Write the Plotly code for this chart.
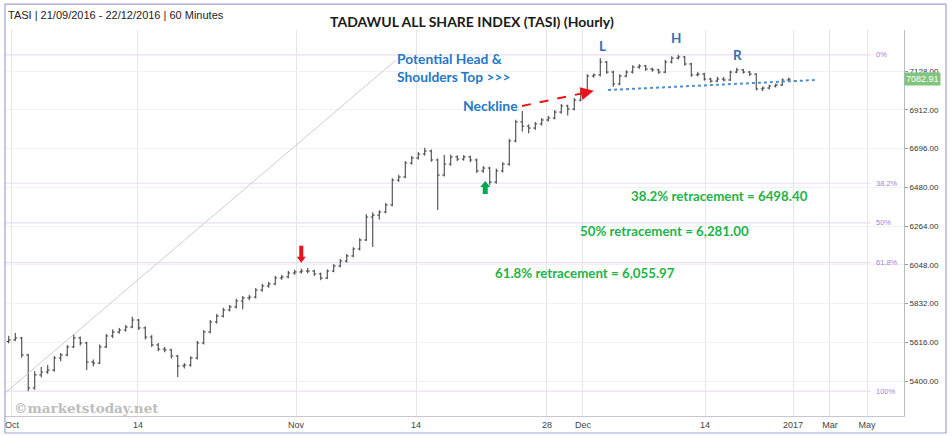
import plotly.graph_objects as go

# hourly TASI bars (two bars per trading day)
opens = [5620, 5629, 5640, 5545, 5361, 5434, 5450, 5461, 5528, 5545, 5590, 5640, 5612, 5506, 5500, 5590,
         5651, 5673, 5684, 5701, 5740, 5696, 5645, 5601, 5578, 5573, 5539, 5484, 5489, 5528, 5612, 5673,
         5729, 5762, 5796, 5813, 5846, 5863, 5868, 5907, 5930, 5941, 5974, 5980, 6002, 6008, 6013, 6013,
         5997, 5974, 6013, 6041, 6069, 6097, 6136, 6186, 6314, 6325, 6342, 6381, 6520, 6537, 6615, 6643,
         6665, 6682, 6632, 6548, 6609, 6649, 6637, 6649, 6632, 6571, 6587, 6509, 6571, 6609, 6738, 6844,
         6821, 6810, 6833, 6855, 6866, 6899, 6933, 6916, 6966, 7011, 7100, 7106, 7178, 7122, 7056, 7100,
         7122, 7150, 7156, 7139, 7134, 7122, 7178, 7200, 7206, 7167, 7106, 7111, 7083, 7072, 7083, 7078,
         7122, 7134, 7122, 7111, 7028, 7033, 7044, 7050, 7078]
highs = [5652, 5668, 5646, 5552, 5455, 5478, 5490, 5540, 5556, 5600, 5660, 5648, 5618, 5520, 5604, 5662,
         5688, 5696, 5712, 5758, 5746, 5704, 5656, 5612, 5590, 5580, 5546, 5500, 5538, 5624, 5684, 5740,
         5774, 5808, 5824, 5858, 5874, 5880, 5918, 5942, 5952, 5986, 5992, 6014, 6020, 6026, 6030, 6020,
         6004, 6022, 6052, 6080, 6108, 6146, 6196, 6330, 6340, 6352, 6392, 6530, 6550, 6626, 6654, 6676,
         6700, 6690, 6640, 6660, 6662, 6658, 6660, 6656, 6640, 6598, 6594, 6584, 6620, 6750, 6856, 6905,
         6830, 6844, 6866, 6878, 6910, 6944, 6940, 6978, 7022, 7110, 7114, 7200, 7184, 7130, 7110, 7132,
         7160, 7166, 7162, 7146, 7140, 7190, 7210, 7218.35, 7212, 7174, 7122, 7118, 7090, 7096, 7094, 7130,
         7146, 7140, 7128, 7116, 7042, 7052, 7058, 7086, 7090]
lows = [5610, 5622, 5530, 5343.65, 5352, 5420, 5440, 5452, 5510, 5538, 5584, 5598, 5461, 5482, 5494, 5584,
        5640, 5664, 5676, 5694, 5684, 5632, 5590, 5566, 5560, 5526, 5422, 5470, 5480, 5520, 5604, 5666,
        5720, 5754, 5788, 5804, 5800, 5850, 5860, 5898, 5920, 5934, 5964, 5972, 5992, 5998, 6000, 5986,
        5962, 5968, 6006, 6034, 6060, 6090, 6128, 6180, 6147, 6300, 6334, 6374, 6510, 6530, 6606, 6634,
        6656, 6622, 6353, 6540, 6600, 6626, 6628, 6620, 6560, 6560, 6493, 6500, 6562, 6600, 6730, 6790,
        6780, 6800, 6824, 6846, 6858, 6890, 6880, 6908, 6958, 7004, 7090, 7098, 7112, 7040, 7048, 7092,
        7114, 7140, 7128, 7124, 7112, 7116, 7170, 7192, 7158, 7096, 7098, 7074, 7062, 7066, 7070, 7072,
        7116, 7114, 7100, 7020, 7016, 7026, 7036, 7044, 7072]
closes = [5629, 5640, 5545, 5361, 5434, 5450, 5461, 5528, 5545, 5590, 5640, 5612, 5506, 5500, 5590, 5651,
          5673, 5684, 5701, 5740, 5696, 5645, 5601, 5578, 5573, 5539, 5484, 5489, 5528, 5612, 5673, 5729,
          5762, 5796, 5813, 5846, 5863, 5868, 5907, 5930, 5941, 5974, 5980, 6002, 6008, 6013, 6013, 5997,
          5974, 6013, 6041, 6069, 6097, 6136, 6186, 6314, 6325, 6342, 6381, 6520, 6537, 6615, 6643, 6665,
          6682, 6632, 6548, 6609, 6649, 6637, 6649, 6632, 6571, 6587, 6509, 6571, 6609, 6738, 6844, 6821,
          6810, 6833, 6855, 6866, 6899, 6933, 6916, 6966, 7011, 7100, 7106, 7178, 7122, 7056, 7100, 7122,
          7150, 7156, 7139, 7134, 7122, 7178, 7200, 7206, 7167, 7106, 7111, 7083, 7072, 7083, 7078, 7122,
          7134, 7122, 7111, 7028, 7033, 7044, 7050, 7078, 7082.91]

# trading-day index (Oct 2 = 0), first bar is the last one of Sep 29
bar_x = [i * 0.5 - 0.25 for i in range(len(closes))]

tick_pos = [0, 9.69, 21.85, 31.08, 41.15, 43.92, 53.31, 60.08, 62.92, 65.77]
tick_text = ["Oct", "14", "Nov", "14", "28", "Dec", "14", "2017", "Mar", "May"]

price_ticks = [5400, 5616, 5832, 6048, 6264, 6480, 6696, 6912, 7128]

fib_ratios = [0, 0.382, 0.5, 0.618, 1]
fib_labels = ["0%", "38.2%", "50%", "61.8%", "100%"]
retrace_text = ["38.2% retracement = 6498.40", "50% retracement = 6,281.00", "61.8% retracement = 6,055.97"]

BLUE = "#1f78c8"
GREEN = "#1db34a"
FIB = "#a77fd9"

fig = go.Figure()
fig.add_trace(go.Ohlc(
    x=bar_x, open=opens, high=highs, low=lows, close=closes,
    increasing_line_color="#363636", decreasing_line_color="#363636",
    line_width=1, tickwidth=0.3, hoverinfo="skip", showlegend=False,
))

shapes = []
hi, lo = max(highs), min(lows)
for r in fib_ratios:
    lv = hi - r * (hi - lo)
    shapes.append(dict(type="line", xref="paper", yref="y", x0=0, x1=0.963, y0=lv, y1=lv,
                       line=dict(color="#e8ddf5", width=1.2), layer="below"))

# trendline from the October low
shapes.append(dict(type="line", xref="x", yref="y", x0=-0.54, y0=5333, x1=29.54, y1=7189,
                   line=dict(color="#cccccc", width=1)))
# neckline
shapes.append(dict(type="line", xref="x", yref="y", x0=45.85, y0=7022, x1=61.92, y1=7078,
                   line=dict(color="#4a8fd4", width=2, dash="dot")))
# dashed red pointer
shapes.append(dict(type="line", xref="x", yref="y", x0=39.23, y0=6933, x1=44.1, y1=7007,
                   line=dict(color="#e8141c", width=2, dash="dash")))
# block arrows (pixel sized, anchored on bars)
shapes.append(dict(type="path", xref="x", yref="y", xsizemode="pixel", ysizemode="pixel",
                   xanchor=bar_x[45], yanchor=highs[45],
                   path="M0,6 L-4.5,12 L-2,12 L-2,23 L2,23 L2,12 L4.5,12 Z",
                   fillcolor="#e8141c", line=dict(width=0)))
shapes.append(dict(type="path", xref="x", yref="y", xsizemode="pixel", ysizemode="pixel",
                   xanchor=bar_x[73], yanchor=lows[73],
                   path="M2,-8 L-3,-14 L-0.5,-14 L-0.5,-21 L4.5,-21 L4.5,-14 L7,-14 Z",
                   fillcolor="#00a84f", line=dict(width=0)))
# outer frame
shapes.append(dict(type="rect", xref="paper", yref="paper", x0=0, x1=1.0467, y0=-0.044, y1=1.067,
                   line=dict(color="#a3a3d6", width=1.2), fillcolor="rgba(0,0,0,0)"))


def note(x, y, text, size, color, family="Lato", xanchor="center", xref="x", yref="y"):
    return dict(x=x, y=y, xref=xref, yref=yref, text=text, showarrow=False,
                xanchor=xanchor, yanchor="middle", font=dict(family=family, size=size, color=color))


annotations = [
    dict(x=44.75, y=7018, xref="x", yref="y", ax=44.0, ay=7006, axref="x", ayref="y",
         showarrow=True, arrowhead=2, arrowsize=1.3, arrowwidth=2, arrowcolor="#e8141c", text=""),
    note(0.5195, 1.023, "<b>TADAWUL ALL SHARE INDEX (TASI) (Hourly)</b>", 14, "#1a1a1a",
         xref="paper", yref="paper"),
    note(0.001, 1.039, "TASI | 21/09/2016 - 22/12/2016 | 60 Minutes", 11, "#222222",
         family="Liberation Sans", xanchor="left", xref="paper", yref="paper"),
    note(29.46, 7195, "<b>Potential Head &</b>", 13.8, BLUE, xanchor="left"),
    note(29.46, 7095, "<b>Shoulders Top >>></b>", 13.8, BLUE, xanchor="left"),
    note(34.54, 6933, "<b>Neckline</b>", 14, BLUE, xanchor="left"),
    note(45.46, 7267, "<b>L</b>", 13.5, "#3570b4"),
    note(51.08, 7312, "<b>H</b>", 13.5, "#3570b4"),
    note(55.77, 7217, "<b>R</b>", 13.5, "#3570b4"),
    note(0.0078, 0.02, "<b>©marketstoday.net</b>", 13.5, "#bdbdbd", family="DejaVu Serif",
         xanchor="left", xref="paper", yref="paper"),
    dict(x=1.0, y=closes[-1], xref="paper", yref="y", xanchor="left", yanchor="middle",
         text="%.2f" % closes[-1], showarrow=False, bgcolor="#7fc47f", borderpad=1,
         font=dict(family="Liberation Sans", size=9, color="white")),
]

for (cx, cy), t in zip([(54.46, 6431), (50.23, 6236), (44.08, 6002)], retrace_text):
    annotations.append(note(cx, cy, "<b>" + t + "</b>", 13.3, GREEN))

for r, lab in zip(fib_ratios, fib_labels):
    annotations.append(note(0.9666, hi - r * (hi - lo), lab, 7.5, FIB, family="Liberation Sans",
                            xanchor="left", xref="paper"))

fig.update_layout(
    width=952, height=436,
    margin=dict(l=5, r=48, t=30, b=20),
    paper_bgcolor="white", plot_bgcolor="white",
    shapes=shapes, annotations=annotations,
    xaxis=dict(range=[-0.538, 68.615], tickvals=tick_pos, ticktext=tick_text,
               showgrid=True, gridcolor="#e4e4e4", gridwidth=1,
               showline=True, linecolor="#c6c6d8", zeroline=False,
               tickfont=dict(family="Liberation Sans", size=9, color="#444444"),
               rangeslider=dict(visible=False), fixedrange=True),
    yaxis=dict(side="right", range=[5205, 7356.5], tickvals=price_ticks, tickformat=".2f",
               showgrid=True, gridcolor="#f1f1f1", showline=True, linecolor="#bbbbbb",
               ticks="outside", ticklen=3, tickcolor="#999999", zeroline=False,
               tickfont=dict(family="Liberation Sans", size=8, color="#333333")),
)

fig.write_html("out.html", config={"displayModeBar": False},
               post_script="document.body.style.margin = '0';")
